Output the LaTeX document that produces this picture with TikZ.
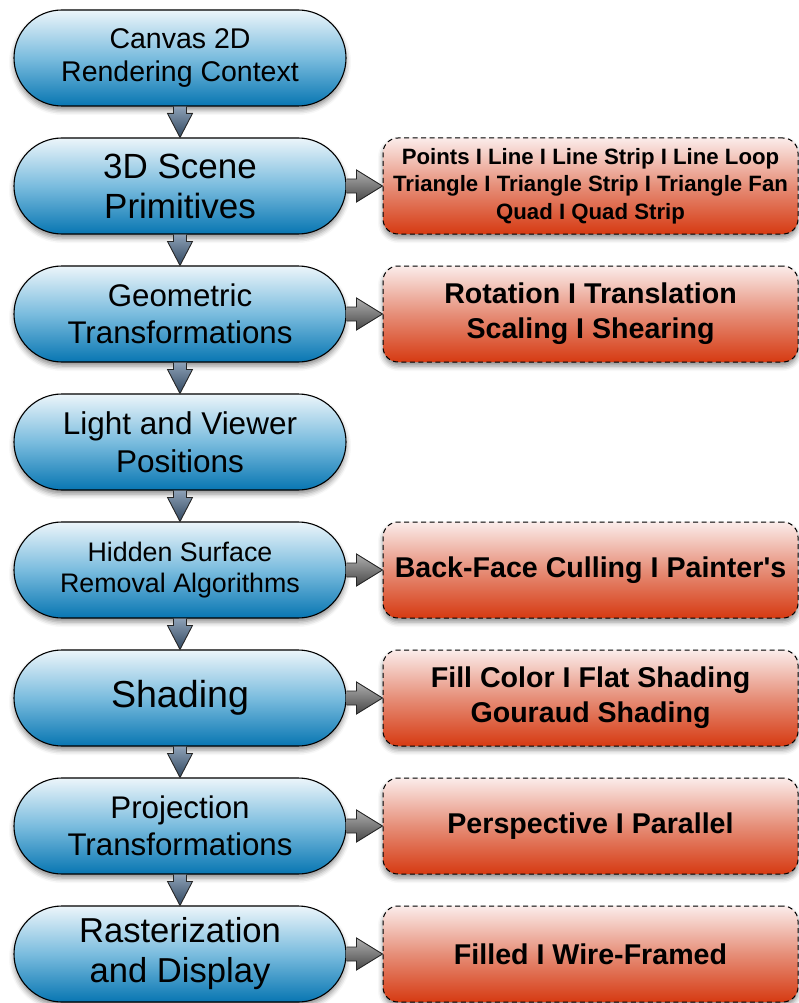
\documentclass[tikz,border=0pt]{standalone}
\usepackage{fontspec}
\setmainfont{Liberation Sans}[Ligatures=TeXOff]
\usetikzlibrary{calc,shadows.blur}

\definecolor{bluetop}{RGB}{236,245,250}
\definecolor{bluemid}{RGB}{122,188,222}
\definecolor{bluebot}{RGB}{8,118,178}
\definecolor{redtop}{RGB}{251,236,234}
\definecolor{redmid}{RGB}{230,142,120}
\definecolor{redbot}{RGB}{214,58,18}
\definecolor{slatetop}{RGB}{140,160,182}
\definecolor{slatebot}{RGB}{50,72,96}
\definecolor{greytop}{RGB}{175,175,175}
\definecolor{greybot}{RGB}{70,70,70}

\tikzset{
  stage/.style={draw=black, line width=1.1pt, rounded corners=48pt,
    minimum width=332pt, minimum height=96pt, inner sep=0pt, align=center,
    top color=bluetop, bottom color=bluebot, middle color=bluemid,
    blur shadow={shadow xshift=0pt, shadow yshift=-4pt,
      shadow blur radius=5pt, shadow opacity=45}},
  detail/.style={draw=black, line width=1pt, dash pattern=on 5pt off 3.5pt,
    rounded corners=15pt, minimum width=415pt, minimum height=96pt,
    inner sep=0pt, align=center,
    top color=redtop, bottom color=redbot, middle color=redmid,
    blur shadow={shadow xshift=0pt, shadow yshift=-4pt,
      shadow blur radius=5pt, shadow opacity=45}},
  vlink/.style={draw=black!85, line width=0.9pt, line join=miter,
    top color=slatetop, bottom color=slatebot},
  hlink/.style={draw=black!85, line width=0.9pt, line join=miter,
    top color=greytop, bottom color=greybot},
  fs/.style n args={2}{font=\fontsize{#1}{#2}\selectfont},
  fb/.style n args={2}{font=\fontsize{#1}{#2}\selectfont\bfseries}
}

% block arrow pointing down from stage #1 to stage #2
\newcommand\DownLink[2]{%
  \shadedraw[vlink] ($(#1.south)+(-6.5,0)$) -- ($(#2.north)+(-6.5,24)$)
    -- ($(#2.north)+(-12.5,24)$) -- (#2.north) -- ($(#2.north)+(12.5,24)$)
    -- ($(#2.north)+(6.5,24)$) -- ($(#1.south)+(6.5,0)$);}
% block arrow pointing right from stage #1 to its detail box #2
\newcommand\SideLink[2]{%
  \shadedraw[hlink] ($(#1.east)+(0,7)$) -- ($(#2.west)+(-26,7)$)
    -- ($(#2.west)+(-26,16)$) -- (#2.west) -- ($(#2.west)+(-26,-16)$)
    -- ($(#2.west)+(-26,-7)$) -- ($(#1.east)+(0,-7)$);}

\begin{document}
\begin{tikzpicture}[x=1pt,y=1pt]
\useasboundingbox (0,0) rectangle (799,-1003);

% pipeline stages
\node[stage, fs={28.5}{33}] (s1) at (180,-58)  {Canvas 2D\\Rendering Context};
\node[stage, fs={35}{40}] (s2) at (180,-186) {3D Scene\\Primitives};
\node[stage, fs={31.3}{37.5}] (s3) at (180,-314) {Geometric\\Transformations};
\node[stage, fs={31.5}{37.5}] (s4) at (180,-442) {Light and Viewer\\Positions};
\node[stage, fs={26.8}{31.5}] (s5) at (180,-570) {Hidden Surface\\Removal Algorithms};
\node[stage, fs={37.6}{40}] (s6) at (180,-698) {Shading};
\node[stage, fs={31.3}{37.5}] (s7) at (180,-826) {Projection\\Transformations};
\node[stage, fs={34.6}{40}] (s8) at (180,-954) {Rasterization\\and Display};

% options for each stage
\node[detail, fb={22.2}{27.5}] (d2) at (590.5,-186)
  {Points I Line I Line Strip I Line Loop\\Triangle I Triangle Strip I Triangle Fan\\Quad I Quad Strip};
\node[detail, fb={28.6}{35}] (d3) at (590.5,-314) {Rotation I Translation\\Scaling I Shearing};
\node[detail, fb={28.6}{35}] (d5) at (590.5,-570) {Back-Face Culling I Painter's};
\node[detail, fb={28.6}{35}] (d6) at (590.5,-698) {Fill Color I Flat Shading\\Gouraud Shading};
\node[detail, fb={28.6}{35}] (d7) at (590.5,-826) {Perspective I Parallel};
\node[detail, fb={28.6}{35}] (d8) at (590.5,-954) {Filled I Wire-Framed};

% flow between stages
\DownLink{s1}{s2}
\DownLink{s2}{s3}
\DownLink{s3}{s4}
\DownLink{s4}{s5}
\DownLink{s5}{s6}
\DownLink{s6}{s7}
\DownLink{s7}{s8}

% links to the option boxes
\SideLink{s2}{d2}
\SideLink{s3}{d3}
\SideLink{s5}{d5}
\SideLink{s6}{d6}
\SideLink{s7}{d7}
\SideLink{s8}{d8}
\end{tikzpicture}
\end{document}
